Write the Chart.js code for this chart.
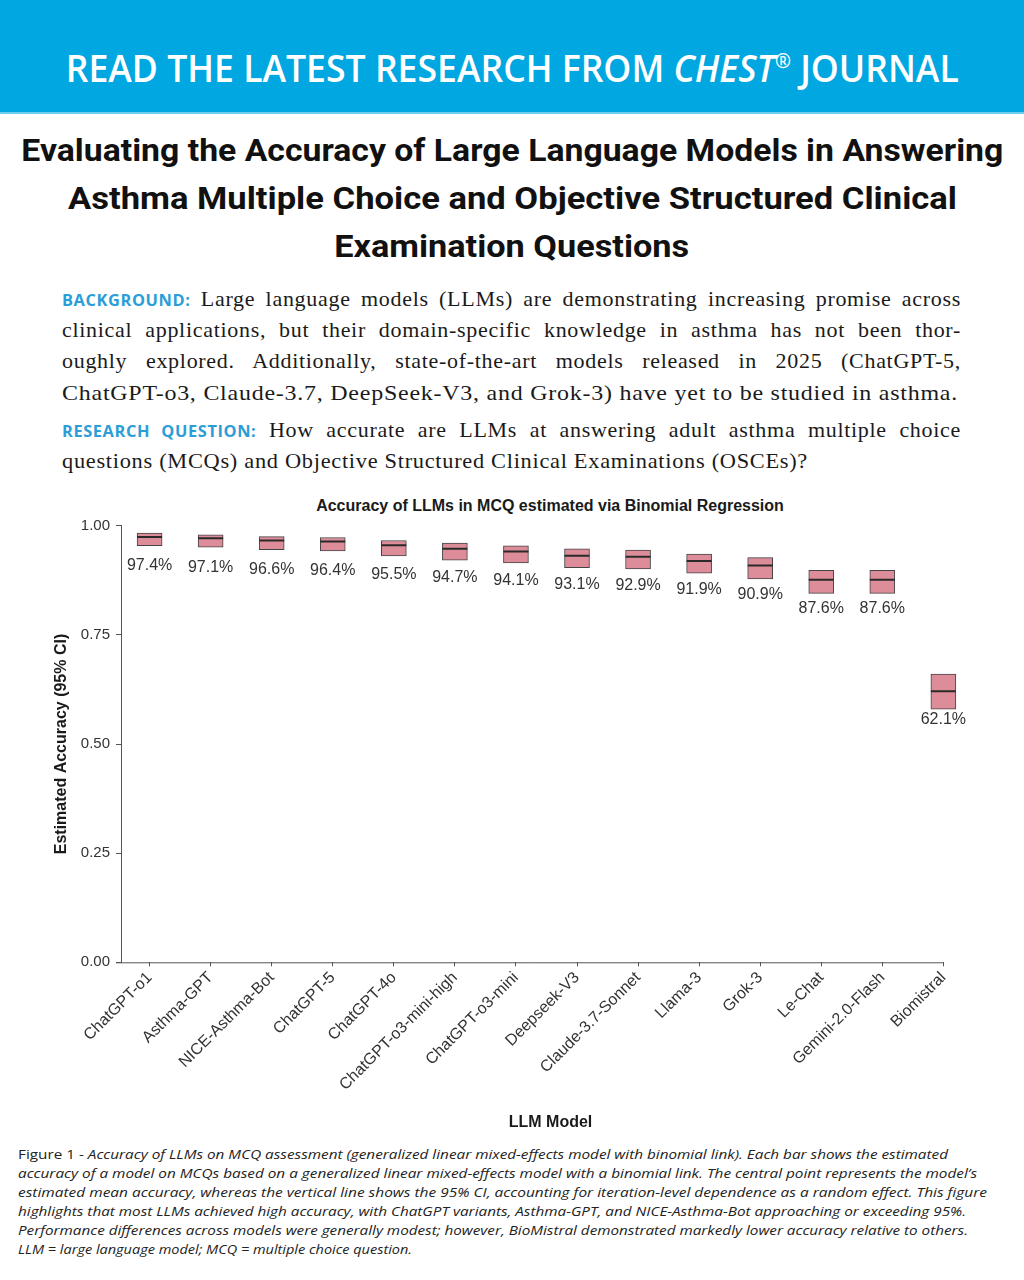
<!DOCTYPE html>
<html>
<head>
<meta charset="utf-8">
<script src="https://cdn.jsdelivr.net/npm/chart.js@4.4.1/dist/chart.umd.min.js"></script>
<style>
  body { margin: 0; width: 1024px; height: 1280px; position: relative; background: #fff; overflow: hidden; }
  .band { position: absolute; left: 0; top: 0; width: 1024px; height: 112px; background: #00a7e1; border-bottom: 2px solid #6fcdf0; }
  .center { position: absolute; left: 0; width: 1024px; text-align: center; white-space: nowrap; }
  .fit { display: inline-block; white-space: nowrap; transform-origin: center; }
  .head { top: 42px; line-height: 40px; font: 600 37px "Open Sans", sans-serif; color: #fff; }
  .head sup { font-size: 20px; vertical-align: 14px; line-height: 0; }
  .ttl { font: 700 32px Roboto, sans-serif; color: #111; line-height: 48px; }
  .pl { position: absolute; left: 62px; width: 899px; font: 22px "Liberation Serif", serif; letter-spacing: 0.7px; line-height: 31px; color: #1a1a1a; white-space: nowrap; }
  .j { text-align: justify; text-align-last: justify; white-space: normal; }
  .lab { font: 700 16.4px "Open Sans", sans-serif; color: #2b9ed8; letter-spacing: 0.6px; line-height: 1; }
  .cap { position: absolute; left: 18px; font: 13.5px "Open Sans", sans-serif; font-style: italic; color: #222; line-height: 19px; white-space: nowrap; transform-origin: left; }
  .cap .n { font-style: normal; }
  .ctitle { position: absolute; left: 250px; width: 600px; top: 496px; text-align: center; font: bold 16px "Liberation Sans", Arial, sans-serif; color: #1a1a1a; line-height: 20px; }
  #wrap { position: absolute; left: 0; top: 480px; width: 1024px; height: 660px; }
</style>
</head>
<body>
<div class="band"></div>
<div class="center head"><span class="fit" data-w="893">READ THE LATEST RESEARCH FROM <i>CHEST</i><sup>®</sup> JOURNAL</span></div>

<div class="center ttl" style="top:126px"><span class="fit" data-w="982">Evaluating the Accuracy of Large Language Models in Answering</span></div>
<div class="center ttl" style="top:174px"><span class="fit" data-w="889">Asthma Multiple Choice and Objective Structured Clinical</span></div>
<div class="center ttl" style="top:222px"><span class="fit" data-w="355">Examination Questions</span></div>

<div class="pl j" style="top:283px"><span class="lab">BACKGROUND:</span> Large language models (LLMs) are demonstrating increasing promise across</div>
<div class="pl j" style="top:314px">clinical applications, but their domain-specific knowledge in asthma has not been thor-</div>
<div class="pl j" style="top:345px">oughly explored. Additionally, state-of-the-art models released in 2025 (ChatGPT-5,</div>
<div class="pl" style="top:377px"><span class="fit" data-w="896" style="transform-origin:left">ChatGPT-o3, Claude-3.7, DeepSeek-V3, and Grok-3) have yet to be studied in asthma.</span></div>
<div class="pl j" style="top:414px"><span class="lab">RESEARCH QUESTION:</span> How accurate are LLMs at answering adult asthma multiple choice</div>
<div class="pl" style="top:445px"><span class="fit" data-w="746" style="transform-origin:left">questions (MCQs) and Objective Structured Clinical Examinations (OSCEs)?</span></div>

<div class="ctitle">Accuracy of LLMs in MCQ estimated via Binomial Regression</div>
<div id="wrap"><canvas id="accChart" width="1024" height="660"></canvas></div>

<div class="cap" style="top:1145px" data-w="930"><span class="n">Figure 1 - </span>Accuracy of LLMs on MCQ assessment (generalized linear mixed-effects model with binomial link). Each bar shows the estimated</div>
<div class="cap" style="top:1164px" data-w="959">accuracy of a model on MCQs based on a generalized linear mixed-effects model with a binomial link. The central point represents the model’s</div>
<div class="cap" style="top:1183px" data-w="969">estimated mean accuracy, whereas the vertical line shows the 95% CI, accounting for iteration-level dependence as a random effect. This figure</div>
<div class="cap" style="top:1202px" data-w="948">highlights that most LLMs achieved high accuracy, with ChatGPT variants, Asthma-GPT, and NICE-Asthma-Bot approaching or exceeding 95%.</div>
<div class="cap" style="top:1221px" data-w="950">Performance differences across models were generally modest; however, BioMistral demonstrated markedly lower accuracy relative to others.</div>
<div class="cap" style="top:1240px" data-w="394">LLM = large language model; MCQ = multiple choice question.</div>

<script>
const models = ['ChatGPT-o1', 'Asthma-GPT', 'NICE-Asthma-Bot', 'ChatGPT-5', 'ChatGPT-4o', 'ChatGPT-o3-mini-high',
  'ChatGPT-o3-mini', 'Deepseek-V3', 'Claude-3.7-Sonnet', 'Llama-3', 'Grok-3', 'Le-Chat', 'Gemini-2.0-Flash', 'Biomistral'];
const meanAcc = [0.974, 0.971, 0.966, 0.964, 0.955, 0.947, 0.941, 0.931, 0.929, 0.919, 0.909, 0.876, 0.876, 0.621];
const ciLow  = [0.954, 0.951, 0.945, 0.942, 0.931, 0.921, 0.915, 0.904, 0.901, 0.891, 0.878, 0.845, 0.845, 0.580];
const ciHigh = [0.983, 0.979, 0.975, 0.973, 0.966, 0.960, 0.954, 0.947, 0.944, 0.935, 0.927, 0.898, 0.898, 0.660];
const yTicks = [0, 0.25, 0.5, 0.75, 1];

// stretch text lines to the widths measured on the poster
document.querySelectorAll('[data-w]').forEach(el => {
  const w = el.getBoundingClientRect().width;
  el.style.transform = 'scaleX(' + (+el.dataset.w / w) + ')';
});

Chart.defaults.font.family = '"Liberation Sans", Arial, sans-serif';
Chart.defaults.color = '#333';

const axisColor = '#555';

// x axis line from the y tick stub to the last category, percentage labels under the boxes
const extras = {
  id: 'extras',
  afterDatasetsDraw(chart) {
    const { ctx, chartArea, scales: { x, y } } = chart;
    ctx.save();
    ctx.strokeStyle = axisColor;
    ctx.lineWidth = 1;
    ctx.beginPath();
    ctx.moveTo(chartArea.left - 5, chartArea.bottom + 0.5);
    ctx.lineTo(x.getPixelForValue(models.length - 1) + 0.5, chartArea.bottom + 0.5);
    ctx.stroke();

    ctx.fillStyle = '#333';
    ctx.font = '16px "Liberation Sans", Arial, sans-serif';
    ctx.textAlign = 'center';
    ctx.textBaseline = 'middle';
    meanAcc.forEach((m, i) => {
      ctx.fillText((m * 100).toFixed(1) + '%', x.getPixelForValue(i), y.getPixelForValue(m - 0.066));
    });
    ctx.restore();
  }
};

const ctx = document.getElementById('accChart').getContext('2d');
new Chart(ctx, {
  type: 'bar',
  data: {
    datasets: [
      {
        type: 'line',
        data: models.map((_, i) => ({ x: i, y: meanAcc[i] })),
        showLine: false,
        pointStyle: 'line',
        pointRadius: 12.5,
        pointBorderWidth: 2,
        pointBorderColor: '#2a2a2a',
        order: 0
      },
      {
        type: 'bar',
        data: models.map((_, i) => ({ x: i, y: [ciLow[i], ciHigh[i]] })),
        backgroundColor: '#dd8c99',
        borderColor: '#444',
        borderWidth: 1,
        borderSkipped: false,
        barThickness: 25,
        order: 1
      }
    ]
  },
  options: {
    responsive: false,
    animation: false,
    layout: { padding: { left: 0, right: 44, top: 45.7, bottom: 0 } },
    plugins: {
      legend: { display: false },
      tooltip: { enabled: false },
      title: { display: false }
    },
    scales: {
      x: {
        type: 'linear',
        offset: false,
        min: -0.468,
        max: 13.6,
        afterBuildTicks: s => { s.ticks = models.map((_, i) => ({ value: i })); },
        afterFit: s => { s.height = 177.7; },
        ticks: {
          callback: v => models[v],
          autoSkip: false,
          maxRotation: 45,
          minRotation: 45,
          font: { size: 16 },
          color: '#333',
          padding: 2
        },
        grid: { offset: false, drawOnChartArea: false, tickLength: 4, color: axisColor },
        border: { display: false },
        title: {
          display: true,
          text: 'LLM Model',
          font: { size: 16, weight: 'bold' },
          color: '#1a1a1a',
          padding: { top: 0, bottom: 7.9 }
        }
      },
      y: {
        min: 0,
        max: 1,
        afterBuildTicks: s => { s.ticks = yTicks.map(v => ({ value: v })); },
        afterFit: s => { s.width = 121; },
        ticks: { callback: v => v.toFixed(2), font: { size: 15 }, color: '#333', padding: 6 },
        grid: { drawOnChartArea: false, tickLength: 5, color: axisColor },
        border: { display: true, color: axisColor, width: 1 },
        title: {
          display: true,
          text: 'Estimated Accuracy (95% CI)',
          font: { size: 16, weight: 'bold' },
          color: '#1a1a1a',
          padding: { top: 52.4, bottom: 0 }
        }
      }
    }
  },
  plugins: [extras]
});
</script>
</body>
</html>
